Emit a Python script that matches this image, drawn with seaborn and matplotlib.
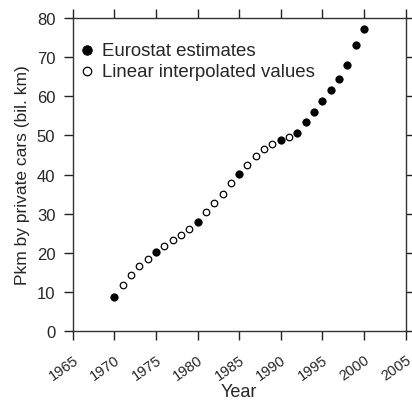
import matplotlib
matplotlib.use("Agg")
import matplotlib.pyplot as plt
import seaborn as sns
import pandas as pd

# Passenger-km by private cars: published estimates and the gap years filled in linearly
est_years = [1970, 1975, 1980, 1985, 1990, 1992, 1993, 1994, 1995, 1996, 1997, 1998, 1999, 2000]
est_values = [8.6, 20.2, 27.8, 40.2, 48.8, 50.7, 53.4, 56.0, 58.9, 61.7, 64.5, 68.1, 73.1, 77.2]

interp_years = [1971, 1972, 1973, 1974, 1976, 1977, 1978, 1979,
                1981, 1982, 1983, 1984, 1986, 1987, 1988, 1989, 1991]
interp_values = [11.7, 14.3, 16.6, 18.5, 21.7, 23.2, 24.6, 26.1,
                 30.3, 32.7, 35.1, 37.8, 42.5, 44.7, 46.5, 47.7, 49.7]

x_ticks = [1965, 1970, 1975, 1980, 1985, 1990, 1995, 2000, 2005]
y_ticks = [0, 10, 20, 30, 40, 50, 60, 70, 80]

est_df = pd.DataFrame({"Year": est_years, "pkm": est_values})
interp_df = pd.DataFrame({"Year": interp_years, "pkm": interp_values})

sns.set_style("white")
plt.rcParams["font.family"] = ["Liberation Sans", "DejaVu Sans"]

fig = plt.figure(figsize=(4.12, 4.02), dpi=100)
ax = fig.add_axes([0.1765, 0.1746, 0.808, 0.7774])

sns.scatterplot(data=est_df, x="Year", y="pkm", ax=ax, color="black",
                edgecolor="black", s=28, linewidth=0.6, label="Eurostat estimates",
                zorder=3)
sns.scatterplot(data=interp_df, x="Year", y="pkm", ax=ax, color="white",
                edgecolor="black", s=22, linewidth=0.9,
                label="Linear interpolated values", zorder=3)

ax.set_xlim(1965, 2005)
ax.set_ylim(0, 80)
ax.set_xticks(x_ticks)
ax.set_yticks(y_ticks)
ax.set_xticklabels([str(t) for t in x_ticks], rotation=35, ha="right",
                   rotation_mode="anchor", fontsize=10.5)
ax.tick_params(axis="y", labelsize=12, pad=6)
ax.tick_params(axis="x", pad=9)
ax.tick_params(direction="out", length=6.5, width=1, color="#222222",
               top=True, right=True, bottom=True, left=True)
ax.set_xlabel("Year", fontsize=13, labelpad=0.5)
ax.set_ylabel("Pkm by private cars (bil. km)", fontsize=12.5, labelpad=5)

for sp in ax.spines.values():
    sp.set_color("#333333")
    sp.set_linewidth(1.0)

leg = ax.legend(loc="upper left", bbox_to_anchor=(0.014, 0.925), frameon=False,
                fontsize=13.4, handletextpad=0.3, borderaxespad=0, borderpad=0,
                labelspacing=0.2, handlelength=1.0, markerscale=1.3)

fig.savefig("out.png", dpi=100)
